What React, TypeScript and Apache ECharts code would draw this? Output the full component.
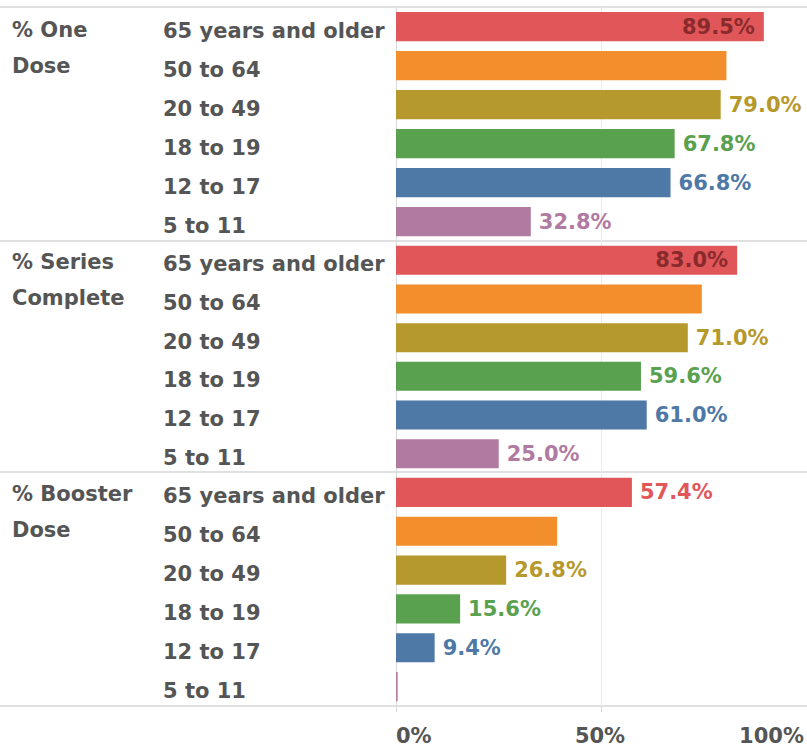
import React, { useEffect, useRef } from "react";
import * as echarts from "echarts";

const categories = ["65 years and older", "50 to 64", "20 to 49", "18 to 19", "12 to 17", "5 to 11"];
const panelTitles = ["% One\nDose", "% Series\nComplete", "% Booster\nDose"];
const oneDose = [89.5, 80.4, 79.0, 67.8, 66.8, 32.8];
const seriesComplete = [83.0, 74.4, 71.0, 59.6, 61.0, 25.0];
const boosterDose = [57.4, 39.2, 26.8, 15.6, 9.4, 0.4];
const panelValues = [oneDose, seriesComplete, boosterDose];
const barColors = ["#E15759", "#F28E2B", "#B6992D", "#59A14F", "#4E79A7", "#B07AA1"];
const axisTicks = [0, 50, 100];

// label placement rules (Tableau hid some, moved some inside)
const hiddenLabel = [
  [false, true, false, false, false, false],
  [false, true, false, false, false, false],
  [false, true, false, false, false, true],
];
const insideLabel = [
  [true, false, false, false, false, false],
  [true, false, false, false, false, false],
  [false, false, false, false, false, false],
];

const FONT = "DejaVu Sans";
const TEXT = "#555555";

export default function App() {
  const ref = useRef<HTMLDivElement>(null);
  useEffect(() => {
    if (!ref.current) return;
    const chart = echarts.init(ref.current, undefined, { renderer: "svg" });
    const tops = [7, 241, 473];
    const heights = [234, 232, 233];
    const grids = tops.map((t, i) => ({ left: 396, width: 414, top: t, height: heights[i] }));
    const xAxes = tops.map((_, i) => ({
      type: "value",
      gridIndex: i,
      min: 0,
      max: 100,
      interval: 50,
      axisLine: { show: false },
      axisTick: { show: i === 2, length: 6, lineStyle: { color: "#d9d9d9" } },
      splitLine: { show: true, lineStyle: { color: "#ececec", width: 1 } },
      axisLabel: {
        show: i === 2,
        formatter: (v: number) => (axisTicks.includes(v) ? v + "%" : ""),
        color: TEXT,
        fontFamily: FONT,
        fontWeight: "bold",
        fontSize: 21,
        margin: 19,
        alignMinLabel: "left",
        alignMaxLabel: "right",
        padding: [0, 3, 0, 0],
      },
    }));
    const yAxes = tops.map((_, i) => ({
      type: "category",
      gridIndex: i,
      inverse: true,
      data: categories,
      axisLine: { show: true, lineStyle: { color: "#d9d9d9", width: 1 } },
      axisTick: { show: false },
      splitLine: { show: false },
      axisLabel: {
        align: "left",
        margin: 233,
        formatter: (v: string) => `{a|${v}}`,
        rich: {
          a: {
            color: TEXT,
            fontFamily: FONT,
            fontWeight: "bold",
            fontSize: 21,
            padding: [8, 0, 0, 0],
          },
        },
      },
    }));
    const series = panelValues.map((vals, p) => ({
      type: "bar",
      xAxisIndex: p,
      yAxisIndex: p,
      barCategoryGap: "25%",
      data: vals.map((v, k) => ({
        value: v,
        itemStyle: { color: barColors[k] },
        label: {
          show: !hiddenLabel[p][k],
          position: insideLabel[p][k] ? "insideRight" : "right",
          distance: insideLabel[p][k] ? 9 : 8,
          color: insideLabel[p][k] ? "#8a2a2c" : barColors[k],
          fontFamily: FONT,
          fontWeight: "bold",
          fontSize: 21,
          padding: [3, 0, 0, 0],
          formatter: (d: any) => Number(d.value).toFixed(1) + "%",
        },
      })),
    }));
    const lineStyle = { stroke: "#d6d6d6", lineWidth: 1.5 };
    const sepYs = [7, 241, 472, 706];
    const graphic: any[] = sepYs.map((y) => ({
      type: "line",
      shape: { x1: 0, y1: y, x2: 807, y2: y },
      style: lineStyle,
      silent: true,
    }));
    const titleTops = [12, 243.5, 476];
    panelTitles.forEach((t, i) => {
      graphic.push({
        type: "text",
        left: 12,
        top: titleTops[i],
        style: {
          text: t,
          fill: TEXT,
          font: `bold 21px "${FONT}"`,
          lineHeight: 36,
        },
      });
    });
    chart.setOption({
      animation: false,
      grid: grids,
      xAxis: xAxes,
      yAxis: yAxes,
      series,
      graphic,
    });
    return () => chart.dispose();
  }, []);
  return (
    <div
      ref={ref}
      style={{ position: "absolute", left: 0, top: 0, width: 807, height: 750, background: "#fff" }}
    />
  );
}
